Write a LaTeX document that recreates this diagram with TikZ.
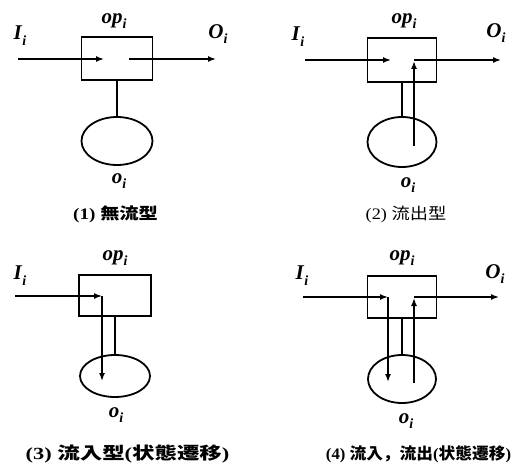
\documentclass[tikz,border=0pt]{standalone}
\usepackage{fontspec}
\setmainfont{Liberation Serif}
\newfontfamily\cjkfont{Noto Sans CJK JP}
\usetikzlibrary{shapes.geometric,arrows.meta}

% italic symbol with a lowered italic subscript
\newcommand{\sym}[2]{\textit{#1}\raisebox{-0.6ex}{\fontsize{14}{14}\selectfont\textit{#2}}}

\tikzset{
  opbox/.style={draw, line width=1.8pt, rectangle, inner sep=0pt},
  store/.style={draw, line width=1.8pt, ellipse, inner sep=0pt},
  stem/.style={line width=1.7pt},
  flow/.style={line width=1.5pt, -{Latex[length=8pt,width=6pt]}},
  lab/.style={font=\fontsize{21}{21}\selectfont\bfseries, inner sep=0pt},
  caption/.style={font=\fontsize{16}{18}\selectfont\bfseries, inner sep=0pt, xscale=1.2}
}

\begin{document}
\begin{tikzpicture}[x=1pt, y=-1pt]
\useasboundingbox (0,0) rectangle (518,470);
\fill[white] (0,0) rectangle (518,470);

% ---------- (1) no flow ----------
\node[opbox, minimum width=71pt, minimum height=43pt] (b1) at (117,58.5) {};
\node[store, minimum width=71pt, minimum height=48pt] (e1) at (117,141) {};
\draw[stem] (b1.south) -- (e1.north);
\coordinate (i1s) at (18,59);  \coordinate (i1e) at (104,59);
\coordinate (o1s) at (129,59); \coordinate (o1e) at (216,59);
\draw[flow] (i1s) -- (i1e);
\draw[flow] (o1s) -- (o1e);
\node[lab] (I1) at (20,36) {\sym{I}{i}};
\node[lab] (op1) at (114,21) {\sym{op}{i}};
\node[lab] (O1) at (218,34) {\sym{O}{i}};
\node[lab] (s1) at (119,181) {\sym{o}{i}};
\node[caption] (c1) at (115.5,214) {(1) {\cjkfont 無流型}};

% ---------- (2) outflow ----------
\node[opbox, minimum width=69pt, minimum height=44pt] (b2) at (402,60) {};
\node[store, minimum width=69pt, minimum height=50pt] (e2) at (402,142) {};
\draw[stem] (b2.south) -- (e2.north);
\coordinate (i2s) at (305,60);  \coordinate (i2e) at (391,60);
\coordinate (u2s) at (414,146); \coordinate (u2e) at (414,61);
\coordinate (o2s) at (414,60);  \coordinate (o2e) at (501,60);
\draw[flow] (i2s) -- (i2e);
\draw[flow] (u2s) -- (u2e);
\draw[flow] (o2s) -- (o2e);
\node[lab] (I2) at (298,37) {\sym{I}{i}};
\node[lab] (op2) at (404,21) {\sym{op}{i}};
\node[lab] (O2) at (496,33) {\sym{O}{i}};
\node[lab] (s2) at (408,185) {\sym{o}{i}};
\node[caption, xscale=0.95] (c2) at (406,214) {\mdseries(2) {\cjkfont 流出型}};

% ---------- (3) inflow ----------
\node[opbox, minimum width=72pt, minimum height=41pt] (b3) at (115,295.5) {};
\node[store, minimum width=70pt, minimum height=42pt] (e3) at (115,376) {};
\draw[stem] (b3.south) -- (e3.north);
\coordinate (i3s) at (15,296);  \coordinate (i3e) at (102,296);
\coordinate (d3s) at (102,296); \coordinate (d3e) at (102,381);
\draw[flow] (i3s) -- (i3e);
\draw[flow] (d3s) -- (d3e);
\node[lab] (I3) at (20,276) {\sym{I}{i}};
\node[lab] (op3) at (115,258) {\sym{op}{i}};
\node[lab] (s3) at (116,415) {\sym{o}{i}};
\node[caption, font=\fontsize{17}{19}\selectfont\bfseries, xscale=1.1] (c3) at (127.5,454)
  {(3) {\cjkfont 流入型}({\cjkfont 状態遷移})};

% ---------- (4) inflow and outflow ----------
\node[opbox, minimum width=69pt, minimum height=42pt] (b4) at (402,297) {};
\node[store, minimum width=68pt, minimum height=48pt] (e4) at (402,379) {};
\draw[stem] (b4.south) -- (e4.north);
\coordinate (i4s) at (303,297); \coordinate (i4e) at (388,297);
\coordinate (d4s) at (388,297); \coordinate (d4e) at (388,382);
\coordinate (u4s) at (414,383); \coordinate (u4e) at (414,298);
\coordinate (o4s) at (414,297); \coordinate (o4e) at (499,297);
\draw[flow] (i4s) -- (i4e);
\draw[flow] (d4s) -- (d4e);
\draw[flow] (u4s) -- (u4e);
\draw[flow] (o4s) -- (o4e);
\node[lab] (I4) at (302,276) {\sym{I}{i}};
\node[lab] (op4) at (402,258) {\sym{op}{i}};
\node[lab] (O4) at (495,274) {\sym{O}{i}};
\node[lab] (s4) at (406,421) {\sym{o}{i}};
\node[caption, xscale=0.87] (c4) at (418.5,454)
  {(4) {\cjkfont 流入，流出}({\cjkfont 状態遷移})};
\end{tikzpicture}
\end{document}
